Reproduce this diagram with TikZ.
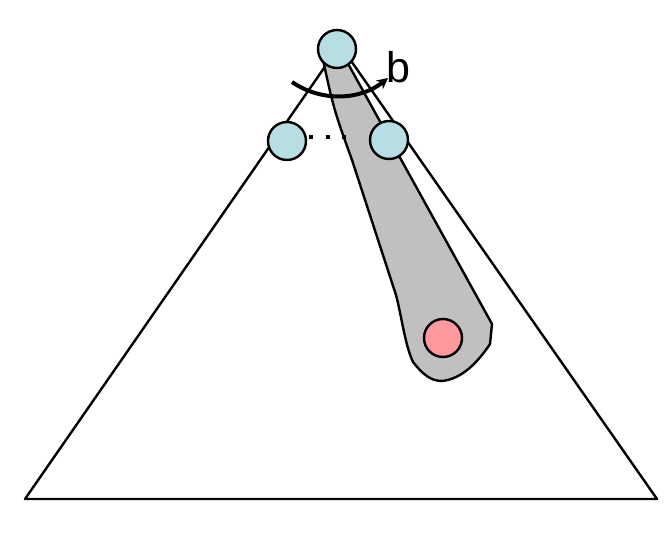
\documentclass[tikz,border=0pt]{standalone}
\usepackage{fontspec}
\setmainfont{Liberation Sans}
\usetikzlibrary{arrows.meta}
\definecolor{nodeblue}{RGB}{183,222,227}
\definecolor{nodepink}{RGB}{255,153,158}
\definecolor{pathgray}{RGB}{192,192,192}
\tikzset{
  outline/.style={draw=black, line width=2.4pt, line join=round},
  treenode/.style={circle, draw=black, line width=2.4pt, fill=nodeblue, minimum size=38pt, inner sep=0pt},
  target/.style={circle, draw=black, line width=2.4pt, fill=nodepink, minimum size=38pt, inner sep=0pt},
  swing/.style={draw=black, line width=4pt, -{Stealth[length=11pt,width=11pt]}},
  dotsline/.style={draw=black, line width=4pt, dash pattern=on 4pt off 12.5pt},
}
\begin{document}
\begin{tikzpicture}[x=1pt,y=-1pt]
\useasboundingbox (0,0) rectangle (669,540);

% outer triangle
\coordinate (apex) at (340,45);
\coordinate (bl) at (25,499);
\coordinate (br) at (657,499);
\draw[outline] (apex) -- (bl) -- (br) -- cycle;

% shaded path down to the target
\filldraw[outline, fill=pathgray]
  (323,60) .. controls (334,110) .. (352,160)
  -- (396,295)
  .. controls (402,318) and (405,345) .. (413,362)
  .. controls (424,376) and (432,381) .. (442,381)
  .. controls (462,379) and (478,362) .. (490,344)
  -- (492,324)
  -- (346,60) -- cycle;

% rotation arrow
\coordinate (swingA) at (292,82);
\coordinate (swingB) at (388,78);
\draw[swing] (swingA) .. controls (321,102) and (360,100.5) .. (swingB);

% dots between siblings
\coordinate (dotA) at (309,137);
\coordinate (dotB) at (347,137);
\draw[dotsline] (dotA) -- (dotB);

% nodes
\node[treenode] (top) at (337,49) {};
\node[treenode] (lc) at (287,141) {};
\node[treenode] (rc) at (389,140) {};
\node[target] (goal) at (443,338) {};

% label
\node[anchor=base west, inner sep=0pt, font=\fontsize{43}{43}\selectfont] (lab) at (386,83) {b};
\end{tikzpicture}
\end{document}
